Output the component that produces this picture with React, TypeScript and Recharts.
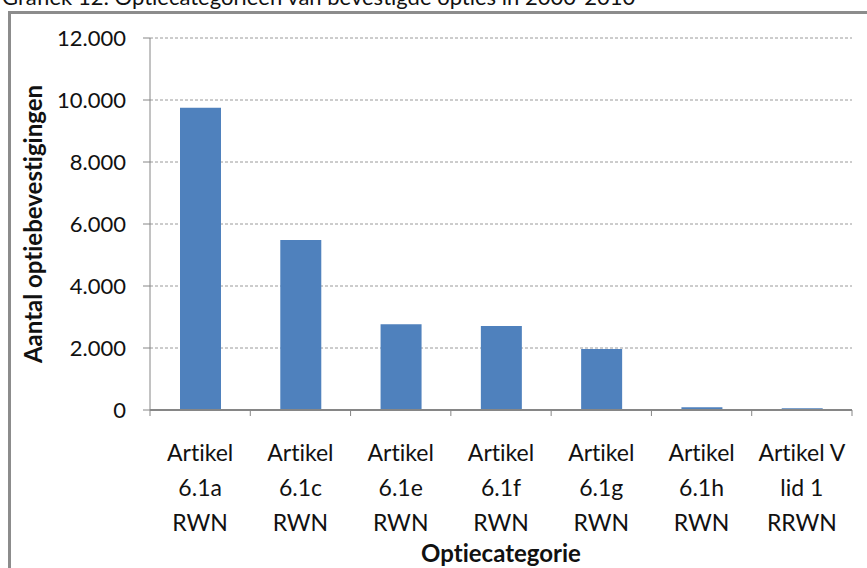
import { Bar, BarChart, CartesianGrid, XAxis, YAxis } from "recharts"

const categories = [
  ["Artikel", "6.1a", "RWN"],
  ["Artikel", "6.1c", "RWN"],
  ["Artikel", "6.1e", "RWN"],
  ["Artikel", "6.1f", "RWN"],
  ["Artikel", "6.1g", "RWN"],
  ["Artikel", "6.1h", "RWN"],
  ["Artikel V", "lid 1", "RRWN"],
]
const counts = [9750, 5480, 2770, 2710, 1970, 90, 60]
const yTicks = [0, 2000, 4000, 6000, 8000, 10000, 12000]

const data = categories.map((lines, i) => ({
  name: lines.join(" "),
  lines,
  count: counts[i],
}))

const font = "Lato, 'Liberation Sans', sans-serif"
const axisGrey = "#868686"
const plotLeft = 150
const plotRight = 852
const band = (plotRight - plotLeft) / categories.length

const fmt = (v: number) => v.toLocaleString("nl-NL")

function CategoryTick(props: any) {
  const { x, y, payload, index } = props
  const lines = categories[payload.index ?? index] || []
  const isLast = (payload.index ?? index) === categories.length - 1
  return (
    <g>
      <line x1={x - band / 2} x2={x - band / 2} y1={y - 8} y2={y - 2} stroke={axisGrey} />
      {isLast && <line x1={x + band / 2} x2={x + band / 2} y1={y - 8} y2={y - 2} stroke={axisGrey} />}
      <text x={x} y={y + 43} textAnchor="middle" fontSize={23} fontFamily={font} fill="#111">
        {lines.map((l, i) => (
          <tspan key={i} x={x} dy={i === 0 ? 0 : 35}>
            {l}
          </tspan>
        ))}
      </text>
    </g>
  )
}

function YTitle(props: any) {
  const { viewBox } = props
  const cy = viewBox.y + viewBox.height / 2
  return (
    <text
      x={32}
      y={cy}
      transform={`rotate(-90, 32, ${cy})`}
      textAnchor="middle"
      dominantBaseline="central"
      fontSize={24}
      fontWeight="bold"
      fontFamily={font}
      fill="#111"
    >
      Aantal optiebevestigingen
    </text>
  )
}

export default function App() {
  return (
    <div
      style={{
        position: "absolute",
        left: 0,
        top: 0,
        width: 867,
        height: 568,
        overflow: "hidden",
        background: "#fff",
        fontVariantLigatures: "none",
      }}
    >
      <div
        style={{
          position: "absolute",
          left: 2,
          top: -17,
          fontFamily: font,
          fontSize: 22,
          color: "#111",
          whiteSpace: "nowrap",
        }}
      >
        Grafiek 12: Optiecategorieën van bevestigde opties in 2000-2010
      </div>
      <div
        style={{
          position: "absolute",
          left: 8,
          top: 11,
          width: 900,
          height: 600,
          borderLeft: "3px solid #8c8c8c",
          borderTop: "3px solid #8c8c8c",
        }}
      />
      <div style={{ position: "absolute", left: 0, top: 0 }}>
        <BarChart width={867} height={568} data={data} margin={{ top: 38, right: 15, bottom: 0, left: 0 }} barCategoryGap="30%">
          <CartesianGrid vertical={false} stroke="#9a9a9a" strokeDasharray="3 2" />
          <YAxis
            width={150}
            domain={[0, 12000]}
            ticks={yTicks}
            interval={0}
            tickFormatter={fmt}
            tickSize={7}
            tickMargin={17}
            stroke={axisGrey}
            tick={{ fill: "#111", fontSize: 22, fontFamily: font }}
            label={<YTitle />}
          />
          <XAxis
            dataKey="name"
            height={158}
            interval={0}
            tickLine={false}
            stroke={axisGrey}
            strokeWidth={2}
            tick={<CategoryTick />}
            label={{
              value: "Optiecategorie",
              position: "insideBottom",
              offset: 6,
              fontSize: 24,
              fontWeight: "bold",
              fontFamily: font,
              fill: "#111",
            }}
          />
          <Bar dataKey="count" fill="#4f81bd" barSize={41} isAnimationActive={false} />
        </BarChart>
      </div>
    </div>
  )
}
